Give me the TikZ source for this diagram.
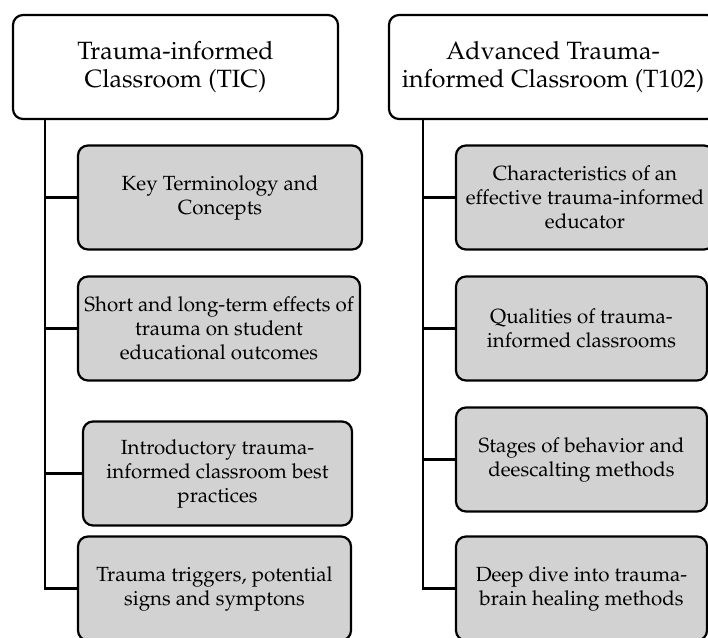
\documentclass[tikz,border=0pt]{standalone}
\usepackage[T1]{fontenc}
\usepackage{mathpazo}
\usetikzlibrary{positioning}

\begin{document}
\begin{tikzpicture}[x=1pt, y=-1pt]

\definecolor{boxgray}{RGB}{210, 210, 210}

\tikzset{
    course/.style={
        draw=black, line width=2.2pt, fill=white, rounded corners=10pt,
        inner sep=0pt, align=center,
        font=\fontsize{25}{27.5}\selectfont
    },
    topic/.style={
        draw=black, line width=2.2pt, fill=boxgray, rounded corners=10pt,
        inner sep=0pt, align=center, minimum height=104pt,
        font=\fontsize{20.5}{24}\selectfont
    },
    branch/.style={
        draw=black, line width=2.4pt
    }
}

% Page frame
\useasboundingbox (0,0) rectangle (708,637);
\clip (0,0) rectangle (708,637);

% --- LEFT COLUMN: TIC ---
\node[course, minimum width=325pt, minimum height=104pt] (tic) at (175.5, 67) {Trauma-informed\\Classroom (TIC)};
\coordinate (ticTrunk) at (45, 119);

\node[topic, minimum width=284pt] (tic1) at (220, 197.5) {Key Terminology and\\Concepts};
\node[topic, minimum width=282pt] (tic2) at (219, 328.5) {Short and long-term effects of\\trauma on student\\educational outcomes};
\node[topic, minimum width=269pt] (tic3) at (217.5, 473.5) {Introductory trauma-\\informed classroom best\\practices};
\node[topic, minimum width=273pt] (tic4) at (214.5, 588.5) {Trauma triggers, potential\\signs and symptons};

\draw[branch] (ticTrunk) |- (tic1.west);
\draw[branch] (ticTrunk) |- (tic2.west);
\draw[branch] (ticTrunk) |- (tic3.west);
\draw[branch] (ticTrunk) |- (tic4.west);

% --- RIGHT COLUMN: T102 ---
\node[course, minimum width=328pt, minimum height=104pt] (adv) at (553, 67) {Advanced Trauma-\\informed Classroom (T102)};
\coordinate (advTrunk) at (423, 119);

\node[topic, minimum width=258pt] (adv1) at (585, 197.5) {Characteristics of an\\effective trauma-informed\\educator};
\node[topic, minimum width=251pt] (adv2) at (581.5, 328.5) {Qualities of trauma-\\informed classrooms};
\node[topic, minimum width=251pt] (adv3) at (581.5, 459.5) {Stages of behavior and\\deescalting methods};
\node[topic, minimum width=251pt] (adv4) at (581.5, 588.5) {Deep dive into trauma-\\brain healing methods};

\draw[branch] (advTrunk) |- (adv1.west);
\draw[branch] (advTrunk) |- (adv2.west);
\draw[branch] (advTrunk) |- (adv3.west);
\draw[branch] (advTrunk) |- (adv4.west);

\end{tikzpicture}
\end{document}
